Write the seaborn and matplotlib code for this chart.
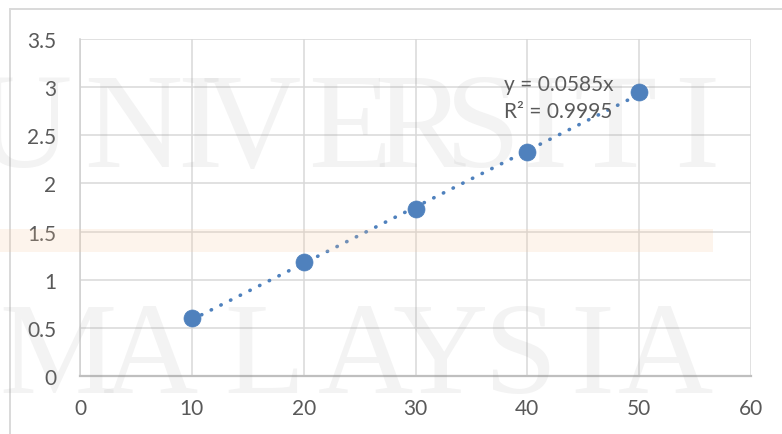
import matplotlib
matplotlib.use("Agg")
import matplotlib.pyplot as plt
from matplotlib.lines import Line2D
from matplotlib.patches import Rectangle
import numpy as np
import pandas as pd
import seaborn as sns

# Calibration data: concentration vs. absorbance
concentration = [10, 20, 30, 40, 50]
absorbance = [0.60, 1.18, 1.73, 2.33, 2.95]

# Linear trendline through the origin
slope = 0.0585
r_squared = 0.9995

x_ticks = [0, 10, 20, 30, 40, 50, 60]
y_ticks = [0, 0.5, 1, 1.5, 2, 2.5, 3, 3.5]
x_tick_labels = ["0", "10", "20", "30", "40", "50", "60"]
y_tick_labels = ["0", "0.5", "1", "1.5", "2", "2.5", "3", "3.5"]

# Background watermark letters
top_word = list("UNIVERSITI")
bottom_word = list("MALAYSIA")

sns.set_theme(style="white")
plt.rcParams["font.family"] = ["Lato", "DejaVu Sans"]

W, H = 782, 435
fig = plt.figure(figsize=(W / 100, H / 100), dpi=100)
fig.patch.set_facecolor("white")

ax = fig.add_axes([80 / W, 1 - 377 / H, (751 - 80) / W, (377 - 40) / H])
ax.set_facecolor("none")

blue = "#4f81bd"
text_gray = "#595959"

points = pd.DataFrame({"x": concentration, "y": absorbance})
trend_x = np.array([concentration[0], concentration[-1]], dtype=float)
trend = pd.DataFrame({"x": trend_x, "y": slope * trend_x})

sns.lineplot(data=trend, x="x", y="y", ax=ax, color=blue, linewidth=2.6,
             linestyle=(0, (0.1, 2.9)), dash_capstyle="round", zorder=3,
             legend=False)
sns.scatterplot(data=points, x="x", y="y", ax=ax, color=blue, s=150,
                edgecolor=blue, linewidth=0.5, zorder=4, legend=False)

ax.set_xlim(0, 60)
ax.set_ylim(0, 3.5)
ax.set_xticks(x_ticks)
ax.set_xticklabels(x_tick_labels)
ax.set_yticks(y_ticks)
ax.set_yticklabels(y_tick_labels)
ax.set_xlabel("")
ax.set_ylabel("")
ax.grid(True, color="#d9d9d9", linewidth=1.1)
ax.set_axisbelow(True)
ax.tick_params(axis="both", length=0, labelsize=15, labelcolor=text_gray)
ax.tick_params(axis="x", pad=16)
ax.tick_params(axis="y", pad=17)
for side in ("top", "right"):
    ax.spines[side].set_visible(False)
ax.spines["left"].set_color("#cfcfcf")
ax.spines["left"].set_linewidth(1.1)
ax.spines["bottom"].set_color("#bfbfbf")
ax.spines["bottom"].set_linewidth(1.6)

ax.text(37.9, 2.97, f"y = {slope}x", fontsize=15, color=text_gray,
        va="baseline", ha="left", zorder=5)
ax.text(37.9, 2.69, f"R² = {r_squared}", fontsize=15, color=text_gray,
        va="baseline", ha="left", zorder=5)

# Chart-area frame (open toward right and bottom edges)
fig.add_artist(Line2D([10 / W, 10 / W], [0, 1 - 10 / H], transform=fig.transFigure,
                      color="#d9d9d9", linewidth=1.4))
fig.add_artist(Line2D([10 / W, 1], [1 - 10 / H, 1 - 10 / H], transform=fig.transFigure,
                      color="#d9d9d9", linewidth=1.4))

# Watermark: pale band and large serif letters
fig.add_artist(Rectangle((0, 1 - 253 / H), 713 / W, 23 / H, transform=fig.transFigure,
                         facecolor="#f7c9a0", alpha=0.2, edgecolor="none", zorder=6))

top_centers = [22, 133, 200, 252, 350, 420, 483, 545, 615, 697]
bottom_centers = [58, 150, 265, 365, 440, 520, 592, 665]
for ch, cx in zip(top_word, top_centers):
    fig.text(cx / W, 1 - 167 / H, ch, family=["Liberation Serif", "DejaVu Serif"],
             fontsize=98, color="#8c8c8c", alpha=0.1, ha="center", va="baseline",
             zorder=7)
for ch, cx in zip(bottom_word, bottom_centers):
    fig.text(cx / W, 1 - 393 / H, ch, family=["Liberation Serif", "DejaVu Serif"],
             fontsize=95, color="#8c8c8c", alpha=0.1, ha="center", va="baseline",
             zorder=7)

fig.savefig("out.png", dpi=100, facecolor="white")
